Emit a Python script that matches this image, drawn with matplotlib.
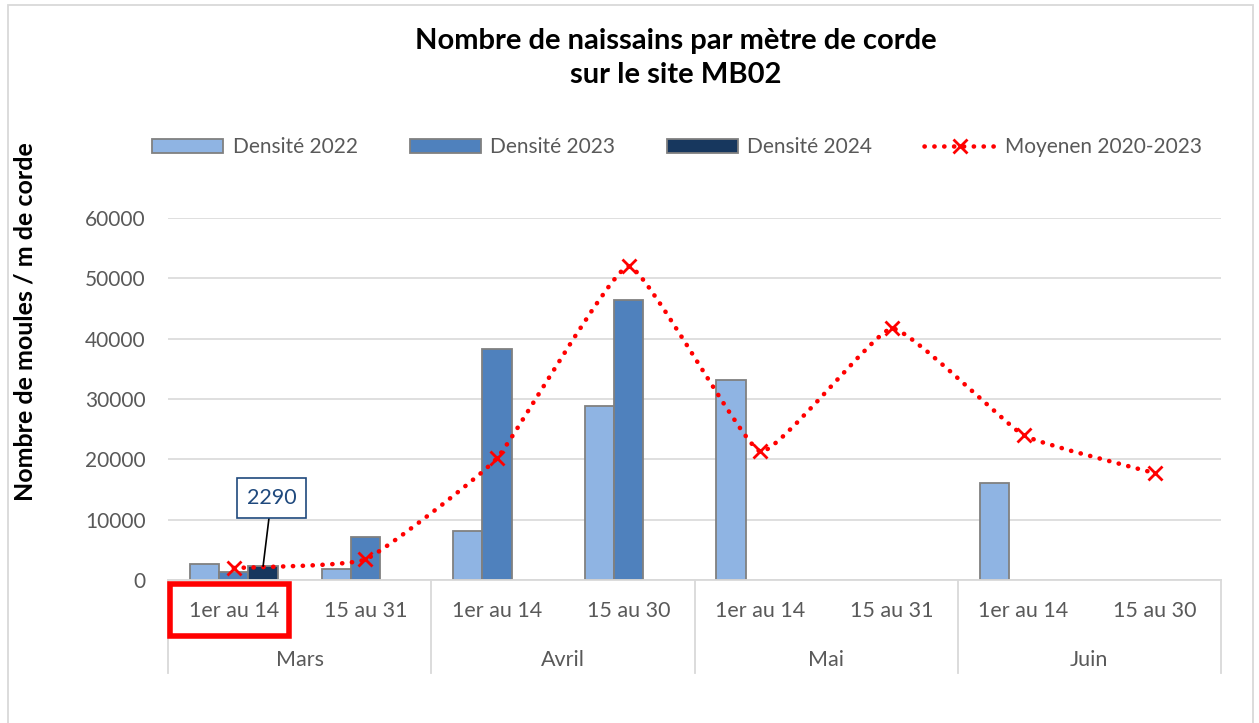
import numpy as np
import matplotlib.pyplot as plt
from matplotlib.path import Path
from matplotlib.patches import PathPatch, Rectangle
from matplotlib.lines import Line2D

plt.rcParams['font.family'] = ['Lato', 'DejaVu Sans']

# data
periods = ["1er au 14", "15 au 31", "1er au 14", "15 au 30",
           "1er au 14", "15 au 31", "1er au 14", "15 au 30"]
months = ["Mars", "Avril", "Mai", "Juin"]
dens_2022 = [2600, 1800, 8100, 28900, 33100, np.nan, 16000, np.nan]
dens_2023 = [1400, 7200, 38300, 46400, np.nan, np.nan, np.nan, np.nan]
dens_2024 = [2290, np.nan, np.nan, np.nan, np.nan, np.nan, np.nan, np.nan]
moyenne = [2000, 3400, 20200, 52000, 21300, 41700, 24000, 17700]

W, H = 1259, 723
fig = plt.figure(figsize=(W / 100, H / 100), dpi=100)
ax = fig.add_axes([168 / W, (H - 580) / H, (1221 - 168) / W, (580 - 218) / H])

grey_txt = '#595959'
grid_c = '#D9D9D9'
x = np.arange(len(periods))
bw = 0.2225

ax.bar(x - bw, dens_2022, bw, color='#8FB4E3', edgecolor='#808080', linewidth=1.3, label='Densité 2022', zorder=2)
ax.bar(x, dens_2023, bw, color='#4F81BD', edgecolor='#808080', linewidth=1.3, label='Densité 2023', zorder=2)
ax.bar(x + bw, dens_2024, bw, color='#17375E', edgecolor='#808080', linewidth=1.3, label='Densité 2024', zorder=2)

# lightly smoothed average line (bezier through the points)
pts = np.column_stack([x, moyenne]).astype(float)
verts = [pts[0]]
codes = [Path.MOVETO]
k = 16.0
for i in range(len(pts) - 1):
    p0 = pts[max(i - 1, 0)]
    p1 = pts[i]
    p2 = pts[i + 1]
    p3 = pts[min(i + 2, len(pts) - 1)]
    verts += [p1 + (p2 - p0) / k, p2 - (p3 - p1) / k, p2]
    codes += [Path.CURVE4] * 3
curve = PathPatch(Path(verts, codes), fill=False, edgecolor='red', linewidth=3.3,
                  linestyle=(0, (0.05, 2.1)), capstyle='round', zorder=3, clip_on=False)
ax.add_patch(curve)
ax.plot(x, moyenne, linestyle='none', marker='x', color='red', markersize=10,
        markeredgewidth=2, zorder=4, clip_on=False)

ax.set_xlim(-0.5, 7.5)
ax.set_ylim(0, 60000)
ax.set_yticks(range(0, 60001, 10000))
ax.tick_params(axis='y', length=0, pad=16, labelsize=15, labelcolor=grey_txt)
ax.set_xticks([])
ax.grid(axis='y', color=grid_c, linewidth=1.2, zorder=0)
ax.set_axisbelow(True)
for s in ['top', 'right', 'left']:
    ax.spines[s].set_visible(False)
ax.spines['bottom'].set_color(grid_c)
ax.spines['bottom'].set_linewidth(1.3)

# multi-level category axis
for xi, lab in zip(x, periods):
    ax.text(xi, -0.0856, lab, transform=ax.get_xaxis_transform(), ha='center', va='center',
            fontsize=15.5, color=grey_txt)
for j, m in enumerate(months):
    ax.text(2 * j + 0.5, -0.221, m, transform=ax.get_xaxis_transform(), ha='center', va='center',
            fontsize=15.5, color=grey_txt)
for b in np.arange(-0.5, 8, 2):
    ax.add_line(Line2D([b, b], [0, -0.257], transform=ax.get_xaxis_transform(),
                       color=grid_c, linewidth=1.3, clip_on=False))

ax.set_ylabel("Nombre de moules / m de corde", fontsize=18, fontweight='bold')
ax.yaxis.set_label_coords(-(168 - 37) / (1221 - 168), (580 - 322) / (580 - 218))

# data label
ax.annotate("2290", xy=(bw, dens_2024[0]), xytext=(6, 49), textcoords='offset points',
            ha='center', va='center', fontsize=15.5, color='#1F497D',
            bbox=dict(boxstyle='square,pad=0.45', fc='white', ec='#1F497D', lw=1.2),
            arrowprops=dict(arrowstyle='-', color='black', lw=1.2, shrinkA=0, shrinkB=0),
            zorder=5)

fig.text(676 / W, 1 - 58 / H, "Nombre de naissains par mètre de corde\nsur le site MB02",
         ha='center', va='center', fontsize=21, fontweight='bold', linespacing=1.4)

handles = ax.get_legend_handles_labels()[0]
avg_h = Line2D([], [], color='red', linewidth=3.3, linestyle=(0, (0.05, 2.1)),
               dash_capstyle='round', marker='x', markersize=10, markeredgewidth=2)
leg = fig.legend(handles + [avg_h], ['Densité 2022', 'Densité 2023', 'Densité 2024', 'Moyenen 2020-2023'],
                 loc='center', bbox_to_anchor=(677 / W, 1 - 147 / H), ncol=4, frameon=False,
                 fontsize=15, labelcolor=grey_txt, handlelength=3.4, handleheight=0.65,
                 handletextpad=0.45, columnspacing=2.5)

# highlight box and outer frame
fig.add_artist(Rectangle((170 / W, 1 - 636 / H), 119 / W, 52 / H, transform=fig.transFigure,
                         fill=False, edgecolor='red', linewidth=4))
fig.add_artist(Rectangle((8 / W, -0.01), 1245 / W, 1 - 5 / H + 0.01, transform=fig.transFigure,
                         fill=False, edgecolor=grid_c, linewidth=1.3))

fig.savefig('out.png', dpi=100)
